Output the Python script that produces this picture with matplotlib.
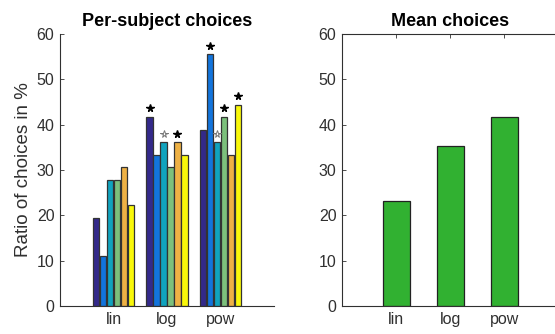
import matplotlib
matplotlib.use("Agg")
import matplotlib.pyplot as plt
import numpy as np

plt.rcParams['font.family'] = ['Liberation Sans', 'DejaVu Sans']

categories = ["lin", "log", "pow"]
# per-subject ratios (%) for each category, rows = subjects
subj_lin = [19.44, 11.11, 27.78, 27.78, 30.56, 22.22]
subj_log = [41.67, 33.33, 36.11, 30.56, 36.11, 33.33]
subj_pow = [38.89, 55.56, 36.11, 41.67, 33.33, 44.44]
mean_values = [23.15, 35.19, 41.67]
subject_colors = ["#33298a", "#1274dc", "#10a3be", "#7cc07c", "#eeb145", "#f9f80a"]
# significance markers: (category index, subject index, filled?)
star_cat = [1, 1, 1, 2, 2, 2, 2]
star_subj = [0, 2, 4, 1, 2, 3, 5]
star_filled = [True, False, True, True, False, True, True]
yticks = [0, 10, 20, 30, 40, 50, 60]

W, H = 555, 334
fig = plt.figure(figsize=(W / 100, H / 100), dpi=100)
ax1 = fig.add_axes([60 / W, 28 / H, 214 / W, 272 / H])
ax2 = fig.add_axes([342 / W, 28 / H, 216.5 / W, 272 / H])

axcol = "#303030"
x = np.arange(1, len(categories) + 1)
data = np.array([subj_lin, subj_log, subj_pow])
nsub = data.shape[1]
bw = 0.118
step = 0.13
offsets = (np.arange(nsub) - (nsub - 1) / 2) * step
for s in range(nsub):
    ax1.bar(x + offsets[s], data[:, s], width=bw, color=subject_colors[s],
            edgecolor="#333333", linewidth=0.9, zorder=2)
for c, s, f in zip(star_cat, star_subj, star_filled):
    xv = x[c] + offsets[s]
    yv = data[c, s] + 1.9
    if f:
        ax1.plot(xv, yv, marker="*", markersize=5.5, color="black", mec="black", zorder=3)
    else:
        ax1.plot(xv, yv, marker="*", markersize=5.5, color="white", mec="#777777", mew=0.7, zorder=3)

ax2.bar(x, mean_values, width=0.5, color="#31b131", edgecolor="#222222", linewidth=0.9, zorder=2)

for ax in (ax1, ax2):
    ax.set_xlim(0, 4)
    ax.set_ylim(0, 60)
    ax.set_xticks(x)
    ax.set_xticklabels(categories)
    ax.set_yticks(yticks)
    ax.tick_params(direction="in", length=3, width=0.6, colors=axcol, labelsize=11.5, pad=4)
    for sp in ax.spines.values():
        sp.set_color(axcol)
        sp.set_linewidth(0.8)

ax1.spines["top"].set_visible(False)
ax1.spines["right"].set_visible(False)
ax2.tick_params(top=True, right=True)

ax1.set_title("Per-subject choices", fontsize=13, fontweight="bold", pad=6)
ax2.set_title("Mean choices", fontsize=13, fontweight="bold", pad=6)
ax1.set_ylabel("Ratio of choices in %", fontsize=13.5, color=axcol, labelpad=3)

fig.savefig("out.png", dpi=100)
